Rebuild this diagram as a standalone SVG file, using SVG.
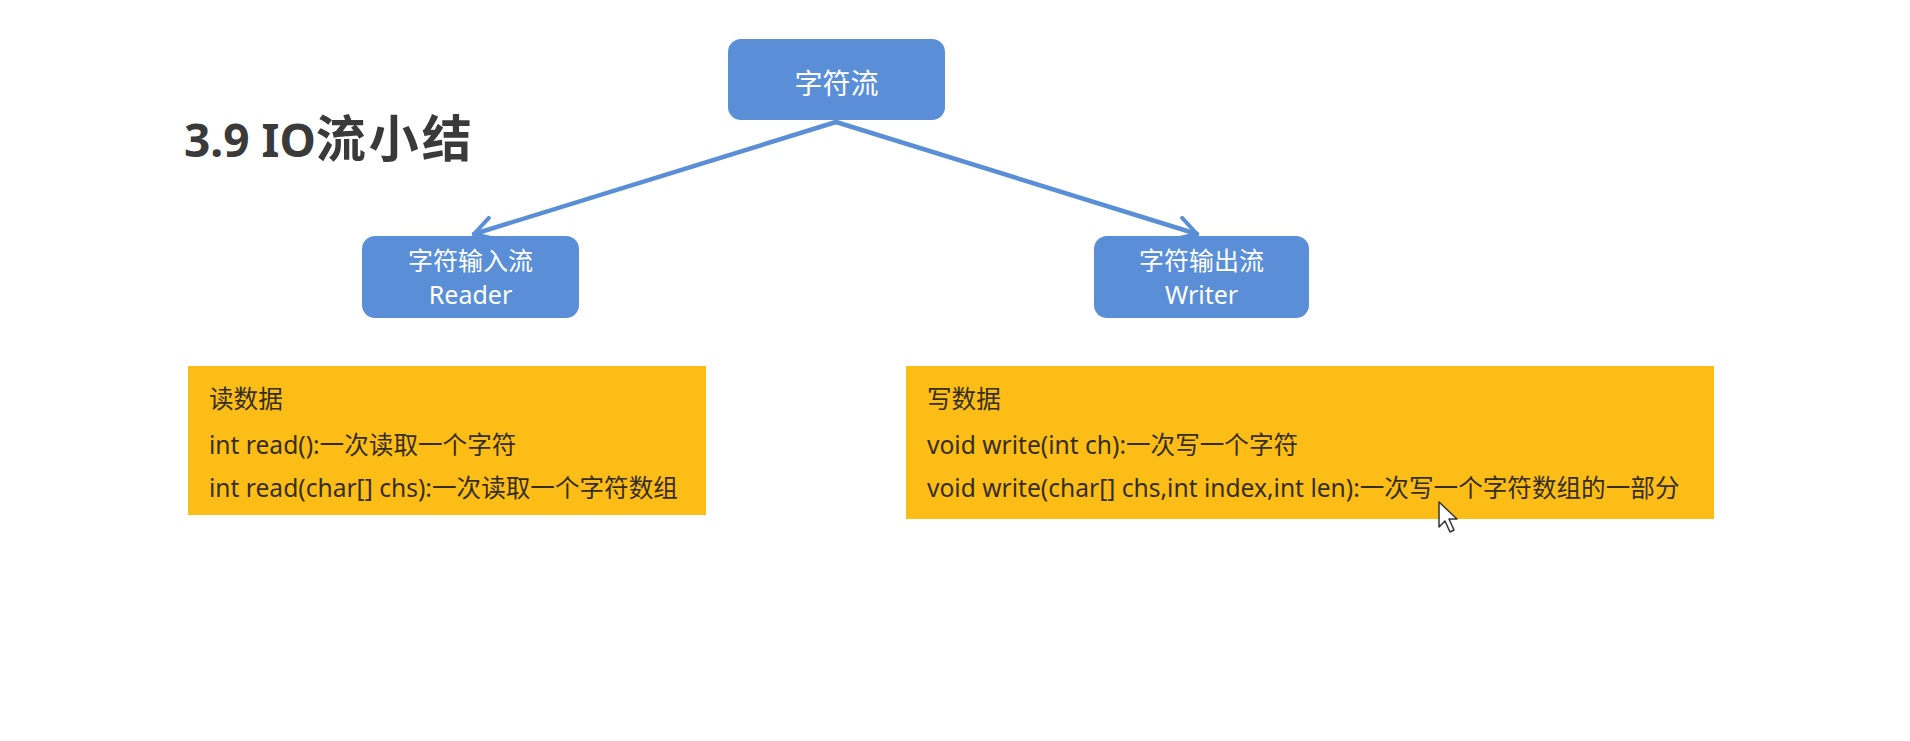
<svg xmlns="http://www.w3.org/2000/svg" width="1910" height="741" viewBox="0 0 1910 741">
  <style>
    .node { fill: #5A8FD7; }
    .ntext { fill: #ffffff; font-family: "Noto Sans", "Noto Sans CJK SC", sans-serif; text-anchor: middle; }
    .box { fill: #FCBE16; }
    .btext { fill: #352D1E; font-family: "Noto Sans", "Noto Sans CJK SC", sans-serif; font-size: 24.6px; }
    .edge { stroke: #5A8FD7; stroke-width: 4.5; fill: none; stroke-linecap: round; stroke-linejoin: round; }
    .title { fill: #3A3A3A; font-family: "Noto Sans", "Noto Sans CJK SC", sans-serif; font-size: 46px; font-weight: bold; }
  </style>
  <defs>
    <marker id="arrow" viewBox="0 0 26 26" refX="23" refY="13" markerWidth="26" markerHeight="26" markerUnits="userSpaceOnUse" orient="auto">
      <path d="M4,2 L23,13 L4,24" fill="none" stroke="#5A8FD7" stroke-width="4" stroke-linecap="round" stroke-linejoin="round"/>
    </marker>
  </defs>
  <rect width="1910" height="741" fill="#ffffff"/>

  <g id="title">
    <text class="title" x="184" y="157">3.9 IO<tspan font-size="50" letter-spacing="3">流小结</tspan></text>
  </g>

  <g id="connectors">
    <path class="edge" d="M836,122 L474,234" marker-end="url(#arrow)"/>
    <path class="edge" d="M836,122 L1197,234" marker-end="url(#arrow)"/>
  </g>

  <g id="node-root">
    <rect class="node" x="728" y="39" width="217" height="81" rx="13"/>
    <text class="ntext" x="836.5" y="94" font-size="28">字符流</text>
  </g>

  <g id="node-reader">
    <rect class="node" x="362" y="236" width="217" height="82" rx="13"/>
    <text class="ntext" x="470.5" y="270" font-size="25">字符输入流</text>
    <text class="ntext" x="470.5" y="304" font-size="25">Reader</text>
  </g>

  <g id="node-writer">
    <rect class="node" x="1094" y="236" width="215" height="82" rx="13"/>
    <text class="ntext" x="1201.5" y="270" font-size="25">字符输出流</text>
    <text class="ntext" x="1201.5" y="304" font-size="25">Writer</text>
  </g>

  <g id="box-read">
    <rect class="box" x="188" y="366" width="518" height="149"/>
    <text class="btext" x="209" y="408">读数据</text>
    <text class="btext" x="209" y="454">int read():一次读取一个字符</text>
    <text class="btext" x="209" y="497">int read(char[] chs):一次读取一个字符数组</text>
  </g>

  <g id="box-write">
    <rect class="box" x="906" y="366" width="808" height="153"/>
    <text class="btext" x="927" y="408">写数据</text>
    <text class="btext" x="927" y="454">void write(int ch):一次写一个字符</text>
    <text class="btext" x="927" y="497">void write(char[] chs,int index,int len):一次写一个字符数组的一部分</text>
  </g>

  <g id="cursor">
    <path d="M1439,502 L1439,527 L1445,521 L1450,532 L1454,530 L1449,519 L1457,519 Z" fill="#ffffff" stroke="#333333" stroke-width="1.5" stroke-linejoin="round"/>
  </g>
</svg>
